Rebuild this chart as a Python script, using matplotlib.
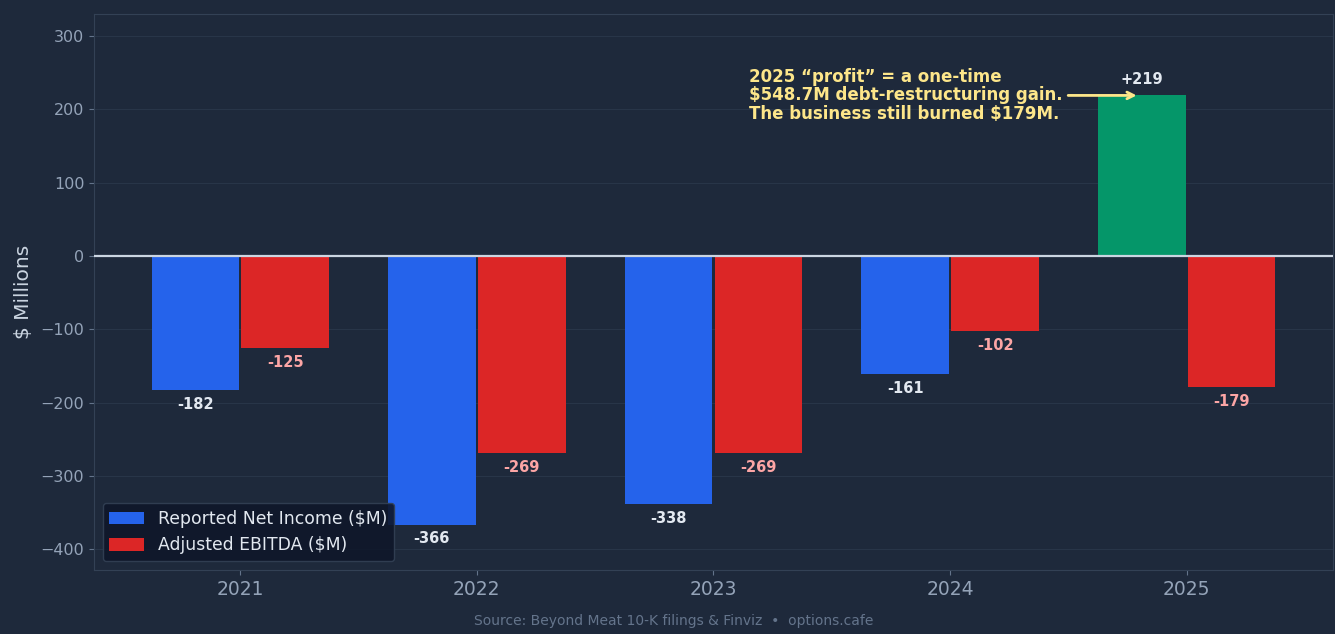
import matplotlib.pyplot as plt
import numpy as np

years = ["2021", "2022", "2023", "2024", "2025"]
net_income = [-182, -366, -338, -161, 219]
ebitda = [-125, -269, -269, -102, -179]

BG = "#1e293b"
plt.rcParams["font.family"] = "DejaVu Sans"

fig = plt.figure(figsize=(13.35, 6.34), dpi=100, facecolor=BG)
ax = fig.add_axes([94 / 1335, 1 - 570 / 634, 1239 / 1335, 556 / 634])
ax.set_facecolor(BG)

x = np.arange(len(years))
w = 0.37
ni_colors = ["#059669" if v > 0 else "#2563eb" for v in net_income]
ax.bar(x - 0.19, net_income, w, color=ni_colors, label="Reported Net Income ($M)", zorder=3)
ax.bar(x + 0.19, ebitda, w, color="#dc2626", label="Adjusted EBITDA ($M)", zorder=3)

# value labels
for xi, v in zip(x - 0.19, net_income):
    txt = f"+{v}" if v > 0 else f"{v}"
    off = 6 if v > 0 else -5
    ax.annotate(txt, (xi, v), xytext=(0, off), textcoords="offset points",
                ha="center", va="bottom" if v > 0 else "top",
                color="#e2e8f0", fontsize=10.5, fontweight="bold")
for xi, v in zip(x + 0.19, ebitda):
    ax.annotate(f"{v}", (xi, v), xytext=(0, -5), textcoords="offset points",
                ha="center", va="top", color="#fca5a5", fontsize=10.5, fontweight="bold")

ax.annotate("2025 \u201cprofit\u201d = a one-time\n$548.7M debt-restructuring gain.\nThe business still burned $179M.",
            xy=(3.8, 219), xytext=(2.15, 219), ha="left", va="center",
            color="#fde68a", fontsize=12, fontweight="bold", linespacing=1.02,
            arrowprops=dict(arrowstyle="->", color="#fde68a", lw=2))

ax.axhline(0, color="#cbd5e1", lw=1.6, zorder=4)
ax.set_ylim(-428, 330)
ax.set_xlim(-0.618, 4.618)
ax.set_xticks(x)
ax.set_xticklabels(years)
ax.set_yticks([-400, -300, -200, -100, 0, 100, 200, 300])
ax.grid(axis="y", color="#334155", lw=0.6, alpha=0.6, zorder=0)
ax.tick_params(axis="y", colors="#64748b", labelcolor="#94a3b8", labelsize=11.5)
ax.tick_params(axis="x", colors="#64748b", labelcolor="#94a3b8", labelsize=13.5)
for s in ax.spines.values():
    s.set_color("#334155")
ax.set_ylabel("$ Millions", color="#cbd5e1", fontsize=14.5, labelpad=5)

leg = ax.legend(loc="lower left", fontsize=12.4, facecolor="#0f172a", edgecolor="#334155",
                labelcolor="#e2e8f0", framealpha=0.9)

fig.text(674 / 1335, 1 - 621 / 634, "Source: Beyond Meat 10-K filings & Finviz  \u2022  options.cafe",
         ha="center", va="center", color="#64748b", fontsize=10)

fig.savefig("out.png", dpi=100, facecolor=BG)
